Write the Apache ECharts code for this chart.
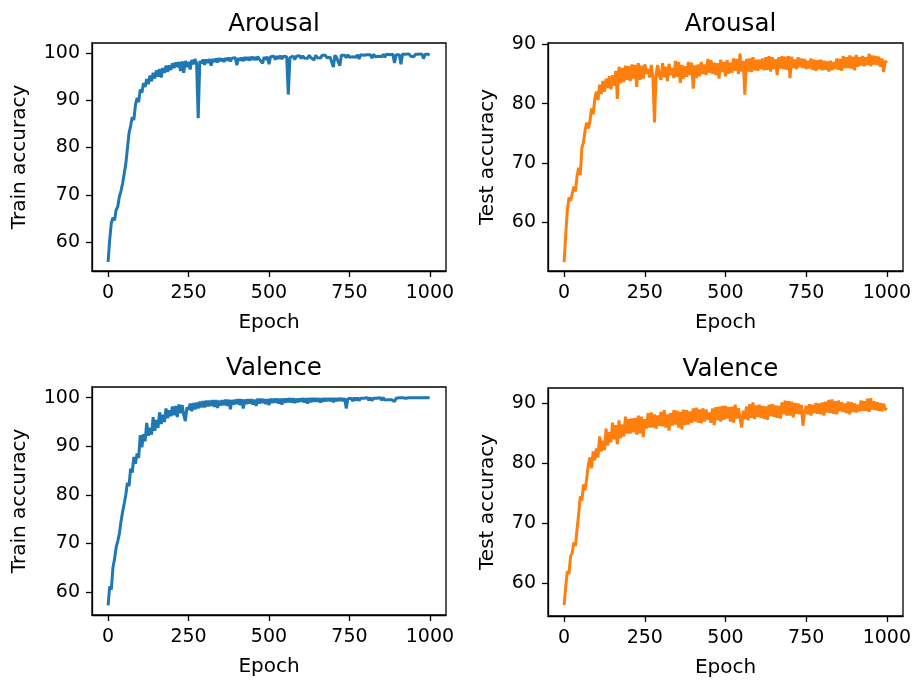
<!DOCTYPE html>
<html>
<head>
<meta charset="utf-8">
<script src="https://cdn.jsdelivr.net/npm/echarts@6/dist/echarts.min.js"></script>
<style>
  html, body { margin: 0; padding: 0; background: #fff; }
  #main { width: 917px; height: 681px; }
</style>
</head>
<body>
<div id="main"></div>
<script>
// sampled epochs (every 5, last one is 999)
var epochs = [0,5,10,15,20,25,30,35,40,45,50,55,60,65,70,75,80,85,90,95,
  100,105,110,115,120,125,130,135,140,145,150,155,160,165,170,175,180,185,190,195,
  200,205,210,215,220,225,230,235,240,245,250,255,260,265,270,275,280,285,290,295,
  300,305,310,315,320,325,330,335,340,345,350,355,360,365,370,375,380,385,390,395,
  400,405,410,415,420,425,430,435,440,445,450,455,460,465,470,475,480,485,490,495,
  500,505,510,515,520,525,530,535,540,545,550,555,560,565,570,575,580,585,590,595,
  600,605,610,615,620,625,630,635,640,645,650,655,660,665,670,675,680,685,690,695,
  700,705,710,715,720,725,730,735,740,745,750,755,760,765,770,775,780,785,790,795,
  800,805,810,815,820,825,830,835,840,845,850,855,860,865,870,875,880,885,890,895,
  900,905,910,915,920,925,930,935,940,945,950,955,960,965,970,975,980,985,990,995,999];

// Arousal, train accuracy
var arousalTrain = [55.8,60.5,64.0,65.2,64.6,66.8,67.5,69.6,70.8,72.4,72.0,76.5,79.8,83.0,84.6,86.4,85.8,89.0,90.5,89.6,
  92.3,91.6,93.6,92.8,94.5,93.4,95.2,94.0,95.8,94.6,96.3,95.0,96.6,94.8,96.8,95.8,97.3,96.0,97.4,96.4,
  97.8,96.8,98.0,97.0,98.1,96.2,98.2,95.8,98.3,97.0,98.1,96.5,98.5,97.6,98.7,97.8,86.2,98.3,97.8,98.6,
  97.5,98.6,97.9,98.7,97.3,98.7,98.1,98.8,98.0,98.9,98.3,98.8,98.1,98.9,98.4,99.0,98.2,98.9,98.5,99.0,
  97.4,98.9,98.4,99.0,98.3,99.1,98.5,99.1,98.4,99.2,98.6,99.1,98.5,99.2,98.7,99.1,97.8,99.1,98.6,99.2,
  97.6,99.2,98.8,99.3,98.6,99.3,98.8,99.4,98.7,99.3,98.9,99.2,91.2,99.0,98.8,99.3,98.6,99.3,98.9,99.4,
  98.8,99.4,98.9,99.3,98.9,99.5,99.0,99.4,98.5,99.5,99.0,99.4,98.9,99.5,99.1,99.5,99.0,99.4,99.1,99.5,
  97.0,99.5,99.0,99.4,97.3,99.5,99.1,99.5,99.0,99.6,99.1,99.5,99.2,99.6,99.1,99.6,98.7,99.6,99.2,99.5,
  99.1,99.6,99.2,99.6,98.9,99.7,99.2,99.6,99.3,99.7,99.2,99.7,99.1,99.7,99.3,99.6,99.2,99.7,97.9,99.6,
  99.3,99.6,97.6,99.7,99.3,99.7,99.4,99.8,99.3,99.7,99.2,99.7,99.4,99.7,99.3,99.8,98.8,99.7,99.3,99.7,99.5];

// Arousal, test accuracy
var arousalTest = [53.3,58.0,62.0,64.2,63.6,64.8,66.0,65.2,67.8,69.2,68.0,72.5,73.5,75.5,76.8,75.8,77.0,79.2,78.2,80.8,
  82.0,80.6,83.2,81.6,83.8,82.0,84.2,82.6,84.6,82.4,84.8,83.0,85.5,80.8,86.2,83.4,86.0,83.6,86.4,84.0,
  86.3,83.8,86.6,84.2,86.5,82.8,86.8,84.0,86.4,84.2,86.6,85.0,85.8,84.4,86.5,84.5,76.8,85.0,86.5,84.6,
  84.0,86.8,84.4,86.2,83.8,86.7,84.8,86.0,84.3,87.2,84.5,87.0,83.5,86.5,84.2,86.3,84.5,87.0,84.8,86.9,
  82.5,86.4,84.3,86.6,84.6,87.0,85.0,86.6,84.8,87.5,85.2,87.3,85.0,86.9,84.8,86.8,84.2,87.4,85.3,87.0,
  84.6,87.3,85.0,86.9,85.2,87.6,85.5,87.5,85.0,88.4,85.4,87.2,81.5,87.5,85.4,87.6,85.3,87.8,85.6,87.4,
  85.5,87.4,85.8,87.6,85.6,87.8,85.7,88.0,85.4,87.8,85.8,87.5,84.8,87.8,85.9,88.0,85.8,87.9,85.7,88.0,
  84.3,87.9,86.0,87.4,85.8,87.8,86.1,87.6,86.0,87.5,85.8,87.2,85.9,87.6,85.7,87.4,85.5,87.3,85.8,87.4,
  85.6,87.2,85.7,87.1,85.4,87.2,85.6,87.0,85.8,87.6,85.7,87.5,85.5,88.0,86.0,87.8,86.0,88.1,85.9,87.9,
  85.6,88.2,86.2,87.8,86.4,88.0,86.3,87.8,86.5,88.4,86.3,88.1,86.6,88.0,86.5,87.9,86.2,87.6,85.3,87.2,86.8];

// Valence, train accuracy
var valenceTrain = [57.3,61.2,60.5,65.0,66.8,69.2,70.5,72.0,74.5,76.5,78.2,80.0,82.5,81.8,85.4,84.6,87.8,86.4,88.5,87.6,
  92.3,89.8,92.5,91.0,94.8,92.2,93.8,92.4,96.0,93.2,95.4,93.8,97.0,94.6,96.5,95.0,97.8,95.8,97.4,96.2,
  98.2,96.4,98.3,96.0,98.6,96.8,98.5,96.5,95.2,98.0,97.5,98.8,97.2,98.9,97.6,99.0,97.8,99.2,98.0,99.3,
  98.0,99.4,98.2,99.4,98.3,99.5,98.1,99.5,97.9,99.4,98.4,99.5,98.5,99.6,98.3,99.6,97.6,99.5,98.6,99.6,
  98.7,99.7,98.5,99.7,97.8,99.6,98.7,99.7,98.8,99.7,98.6,99.6,98.3,99.8,98.8,99.8,98.9,99.7,98.7,99.7,
  98.5,99.8,98.9,99.8,99.0,99.8,98.8,99.8,98.6,99.8,99.0,99.8,99.1,99.9,99.0,99.9,98.9,99.8,99.1,99.8,
  99.2,99.9,99.0,99.9,98.8,99.9,99.1,99.9,99.2,99.9,99.2,99.9,99.0,99.9,99.2,99.9,99.3,99.9,99.3,99.9,
  99.1,99.9,99.3,99.9,99.4,99.9,99.3,99.9,97.8,99.8,99.4,99.9,99.3,100.0,99.4,100.0,99.4,99.9,99.5,99.9,
  99.5,100.0,99.5,100.0,99.4,99.9,99.5,99.9,99.6,100.0,99.5,100.0,99.5,99.9,99.6,99.9,99.6,100.0,99.2,99.9,
  99.6,100.0,99.6,100.0,99.6,99.9,99.7,100.0,99.7,100.0,99.6,100.0,99.7,100.0,99.7,100.0,99.7,100.0,99.8,100.0,99.9];

// Valence, test accuracy
var valenceTest = [56.3,59.5,62.0,61.5,64.5,65.0,66.8,66.2,69.0,71.5,74.5,73.8,76.5,75.5,77.5,79.8,81.0,79.2,82.0,80.5,
  82.5,81.0,84.5,82.0,83.8,82.2,85.8,83.0,85.2,83.5,86.8,84.0,86.4,83.2,87.2,84.2,86.5,84.5,87.8,85.0,
  87.4,85.0,87.5,85.2,87.6,84.8,88.0,85.0,87.8,84.4,87.4,85.8,88.4,86.0,88.5,86.0,88.2,85.8,88.0,86.3,
  88.6,86.2,88.9,86.0,88.2,85.5,88.4,86.3,88.9,86.5,88.8,86.0,88.6,85.7,89.0,86.4,88.9,86.5,88.7,86.8,
  89.2,87.0,89.3,86.8,89.0,86.7,89.2,87.0,89.0,87.3,88.5,86.8,89.2,86.4,89.4,87.2,89.5,87.0,89.6,87.3,
  89.6,87.5,89.4,87.0,89.5,86.8,89.8,87.5,89.2,87.6,86.0,88.8,87.4,89.5,87.2,89.9,87.6,90.2,87.4,89.7,
  87.8,89.8,87.6,89.6,87.4,89.5,87.3,89.8,87.9,89.9,87.8,89.7,87.6,89.6,87.5,90.2,88.2,90.5,88.0,90.4,
  88.0,90.3,87.7,90.1,88.3,90.0,88.2,89.8,86.3,88.6,89.6,88.2,89.9,88.0,89.8,88.4,90.1,88.3,90.0,88.2,
  90.2,88.0,90.3,88.5,90.6,88.4,90.7,88.3,90.4,88.2,90.5,88.7,90.2,88.6,90.0,88.4,90.3,88.2,90.2,88.6,
  90.0,88.5,89.8,88.7,90.5,88.8,90.4,88.8,90.8,88.6,90.9,89.0,90.4,88.9,90.2,88.8,90.1,88.7,90.0,88.9,89.3];

var xTicks = [0, 250, 500, 750, 1000];
var yTicksTrain = [60, 70, 80, 90, 100];
var yTicksTest = [60, 70, 80, 90];

var panels = [
  { title: 'Arousal', yName: 'Train accuracy', values: arousalTrain, color: '#1f77b4', ymin: 53.9, ymax: 102.1, ticks: yTicksTrain,
    left: 92, top: 43, width: 354, nameGap: 62 },
  { title: 'Arousal', yName: 'Test accuracy', values: arousalTest, color: '#ff7f0e', ymin: 51.8, ymax: 90.2, ticks: yTicksTest,
    left: 548, top: 43, width: 355, nameGap: 50 },
  { title: 'Valence', yName: 'Train accuracy', values: valenceTrain, color: '#1f77b4', ymin: 55.3, ymax: 102.2, ticks: yTicksTrain,
    left: 92, top: 387, width: 354, nameGap: 62 },
  { title: 'Valence', yName: 'Test accuracy', values: valenceTest, color: '#ff7f0e', ymin: 54.5, ymax: 92.6, ticks: yTicksTest,
    left: 548, top: 388, width: 355, nameGap: 50 }
];

var font = 'DejaVu Sans';
var plotHeight = 228;

var myChart = echarts.init(document.getElementById('main'), null, { renderer: 'canvas' });

function plain(v) { return String(v); }

var titles = [], grids = [], xAxes = [], yAxes = [], series = [];
panels.forEach(function (p, i) {
  titles.push({
    text: p.title,
    left: p.left + p.width / 2,
    top: p.top - 36,
    textAlign: 'center',
    textStyle: { fontFamily: font, fontSize: 24.5, fontWeight: 'normal', color: '#000' }
  });
  grids.push({
    left: p.left, top: p.top, width: p.width, height: plotHeight,
    show: true, borderColor: '#000', borderWidth: 1.3, backgroundColor: 'transparent'
  });
  xAxes.push({
    type: 'value', gridIndex: i, min: -50, max: 1050,
    name: 'Epoch', nameLocation: 'middle', nameGap: 42,
    nameTextStyle: { fontFamily: font, fontSize: 20, color: '#000' },
    axisLine: { show: true, onZero: false, lineStyle: { color: '#000', width: 1.3 } },
    axisTick: { show: true, length: 6, inside: false, customValues: xTicks, lineStyle: { color: '#000', width: 1.3 } },
    axisLabel: { customValues: xTicks, formatter: plain, margin: 13, fontFamily: font, fontSize: 19, color: '#000' },
    splitLine: { show: false }
  });
  yAxes.push({
    type: 'value', gridIndex: i, min: p.ymin, max: p.ymax,
    name: p.yName, nameLocation: 'middle', nameGap: p.nameGap,
    nameTextStyle: { fontFamily: font, fontSize: 20, color: '#000' },
    axisLine: { show: true, onZero: false, lineStyle: { color: '#000', width: 1.3 } },
    axisTick: { show: true, length: 6, inside: false, customValues: p.ticks, lineStyle: { color: '#000', width: 1.3 } },
    axisLabel: { customValues: p.ticks, formatter: plain, margin: 12, fontFamily: font, fontSize: 19, color: '#000' },
    splitLine: { show: false }
  });
  series.push({
    type: 'line', xAxisIndex: i, yAxisIndex: i,
    data: epochs.map(function (e, k) { return [e, p.values[k]]; }),
    showSymbol: false, clip: true,
    lineStyle: { color: p.color, width: 3 },
    itemStyle: { color: p.color }
  });
});

myChart.setOption({
  animation: false,
  backgroundColor: '#fff',
  title: titles,
  grid: grids,
  xAxis: xAxes,
  yAxis: yAxes,
  series: series
});
</script>
</body>
</html>
